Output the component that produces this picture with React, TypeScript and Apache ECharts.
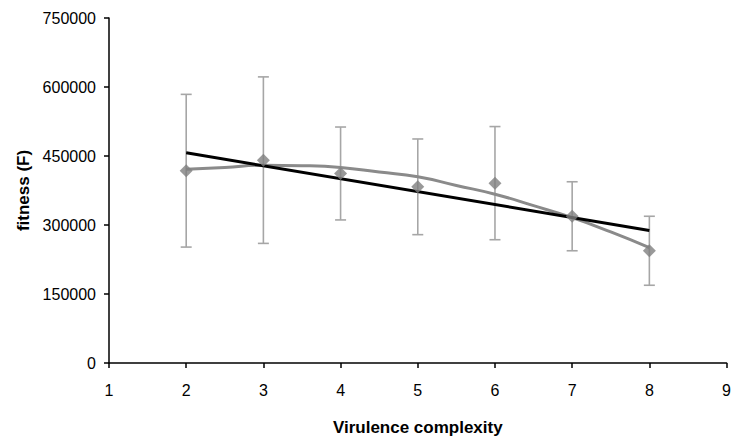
import React, { useEffect, useRef } from "react";
import * as echarts from "echarts";

const complexity = [2, 3, 4, 5, 6, 7, 8];
const fitnessMean = [418000, 441000, 412000, 383000, 391000, 319000, 244000];
const fitnessErr = [166000, 181000, 101000, 104000, 123000, 75000, 75000];

// polynomial trend curve
const curveX = [2, 2.5, 3, 3.5, 4, 4.5, 5, 5.5, 6, 6.5, 7, 7.5, 8];
const curveY = [421000, 425000, 430000, 429000, 425000, 415000, 405000, 386000, 367000, 342000, 316000, 285000, 251000];

const xTicks = { min: 1, max: 9, interval: 1 };
const yTicks = { min: 0, max: 750000, interval: 150000 };

function linearFit(xs: number[], ys: number[]) {
  const n = xs.length;
  const mx = xs.reduce((a, b) => a + b, 0) / n;
  const my = ys.reduce((a, b) => a + b, 0) / n;
  let sxy = 0, sxx = 0;
  for (let i = 0; i < n; i++) {
    sxy += (xs[i] - mx) * (ys[i] - my);
    sxx += (xs[i] - mx) * (xs[i] - mx);
  }
  const slope = sxy / sxx;
  return (x: number) => my + slope * (x - mx);
}

export default function App() {
  const ref = useRef<HTMLDivElement>(null);
  useEffect(() => {
    if (!ref.current) return;
    document.body.style.margin = "0";
    document.body.style.overflow = "hidden";
    const chart = echarts.init(ref.current, undefined, { renderer: "svg" });
    const fit = linearFit(complexity, fitnessMean);
    const xFirst = complexity[0];
    const xLast = complexity[complexity.length - 1];
    const font = "'Liberation Sans', Arial, sans-serif";
    chart.setOption({
      animation: false,
      backgroundColor: "#ffffff",
      grid: { left: 109, top: 18, right: 7, bottom: 73, containLabel: false },
      xAxis: {
        type: "value",
        min: xTicks.min,
        max: xTicks.max,
        interval: xTicks.interval,
        name: "Virulence complexity",
        nameLocation: "middle",
        nameGap: 56,
        nameTextStyle: { fontFamily: font, fontSize: 17, fontWeight: "bold", color: "#000" },
        axisLine: { show: true, onZero: false, lineStyle: { color: "#000", width: 1.5 } },
        axisTick: { show: true, length: 5, lineStyle: { color: "#000", width: 1.5 } },
        axisLabel: { fontFamily: font, fontSize: 16, color: "#000", margin: 19, formatter: (v: number) => String(v) },
        splitLine: { show: false },
      },
      yAxis: {
        type: "value",
        min: yTicks.min,
        max: yTicks.max,
        interval: yTicks.interval,
        name: "fitness (F)",
        nameLocation: "middle",
        nameRotate: 90,
        nameGap: 76,
        nameTextStyle: { fontFamily: font, fontSize: 17, fontWeight: "bold", color: "#000" },
        axisLine: { show: true, lineStyle: { color: "#000", width: 1.5 } },
        axisTick: { show: true, length: 5, lineStyle: { color: "#000", width: 1.5 } },
        axisLabel: { fontFamily: font, fontSize: 16, color: "#000", margin: 13, formatter: (v: number) => String(v) },
        splitLine: { show: false },
      },
      series: [
        {
          type: "custom",
          name: "error",
          data: complexity.map((x, i) => [x, fitnessMean[i] - fitnessErr[i], fitnessMean[i] + fitnessErr[i]]),
          renderItem: (params: any, api: any) => {
            const x = api.value(0);
            const lo = api.coord([x, api.value(1)]);
            const hi = api.coord([x, api.value(2)]);
            const w = 5.5;
            const style = { stroke: "#a6a6a6", lineWidth: 1.6 };
            return {
              type: "group",
              children: [
                { type: "line", shape: { x1: hi[0], y1: hi[1], x2: lo[0], y2: lo[1] }, style },
                { type: "line", shape: { x1: hi[0] - w, y1: hi[1], x2: hi[0] + w, y2: hi[1] }, style },
                { type: "line", shape: { x1: lo[0] - w, y1: lo[1], x2: lo[0] + w, y2: lo[1] }, style },
              ],
            };
          },
          z: 1,
        },
        {
          type: "line",
          name: "poly",
          data: curveX.map((x, i) => [x, curveY[i]]),
          smooth: true,
          showSymbol: false,
          lineStyle: { color: "#8a8a8a", width: 3 },
          z: 2,
        },
        {
          type: "line",
          name: "linear",
          data: [[xFirst, fit(xFirst)], [xLast, fit(xLast)]],
          showSymbol: false,
          lineStyle: { color: "#000", width: 3 },
          z: 3,
        },
        {
          type: "scatter",
          name: "mean",
          data: complexity.map((x, i) => [x, fitnessMean[i]]),
          symbol: "diamond",
          symbolSize: 13,
          itemStyle: { color: "#7f7f7f" },
          z: 4,
        },
      ],
    });
    return () => chart.dispose();
  }, []);
  return <div ref={ref} style={{ width: 734, height: 441, position: "fixed", left: 0, top: 0 }} />;
}
